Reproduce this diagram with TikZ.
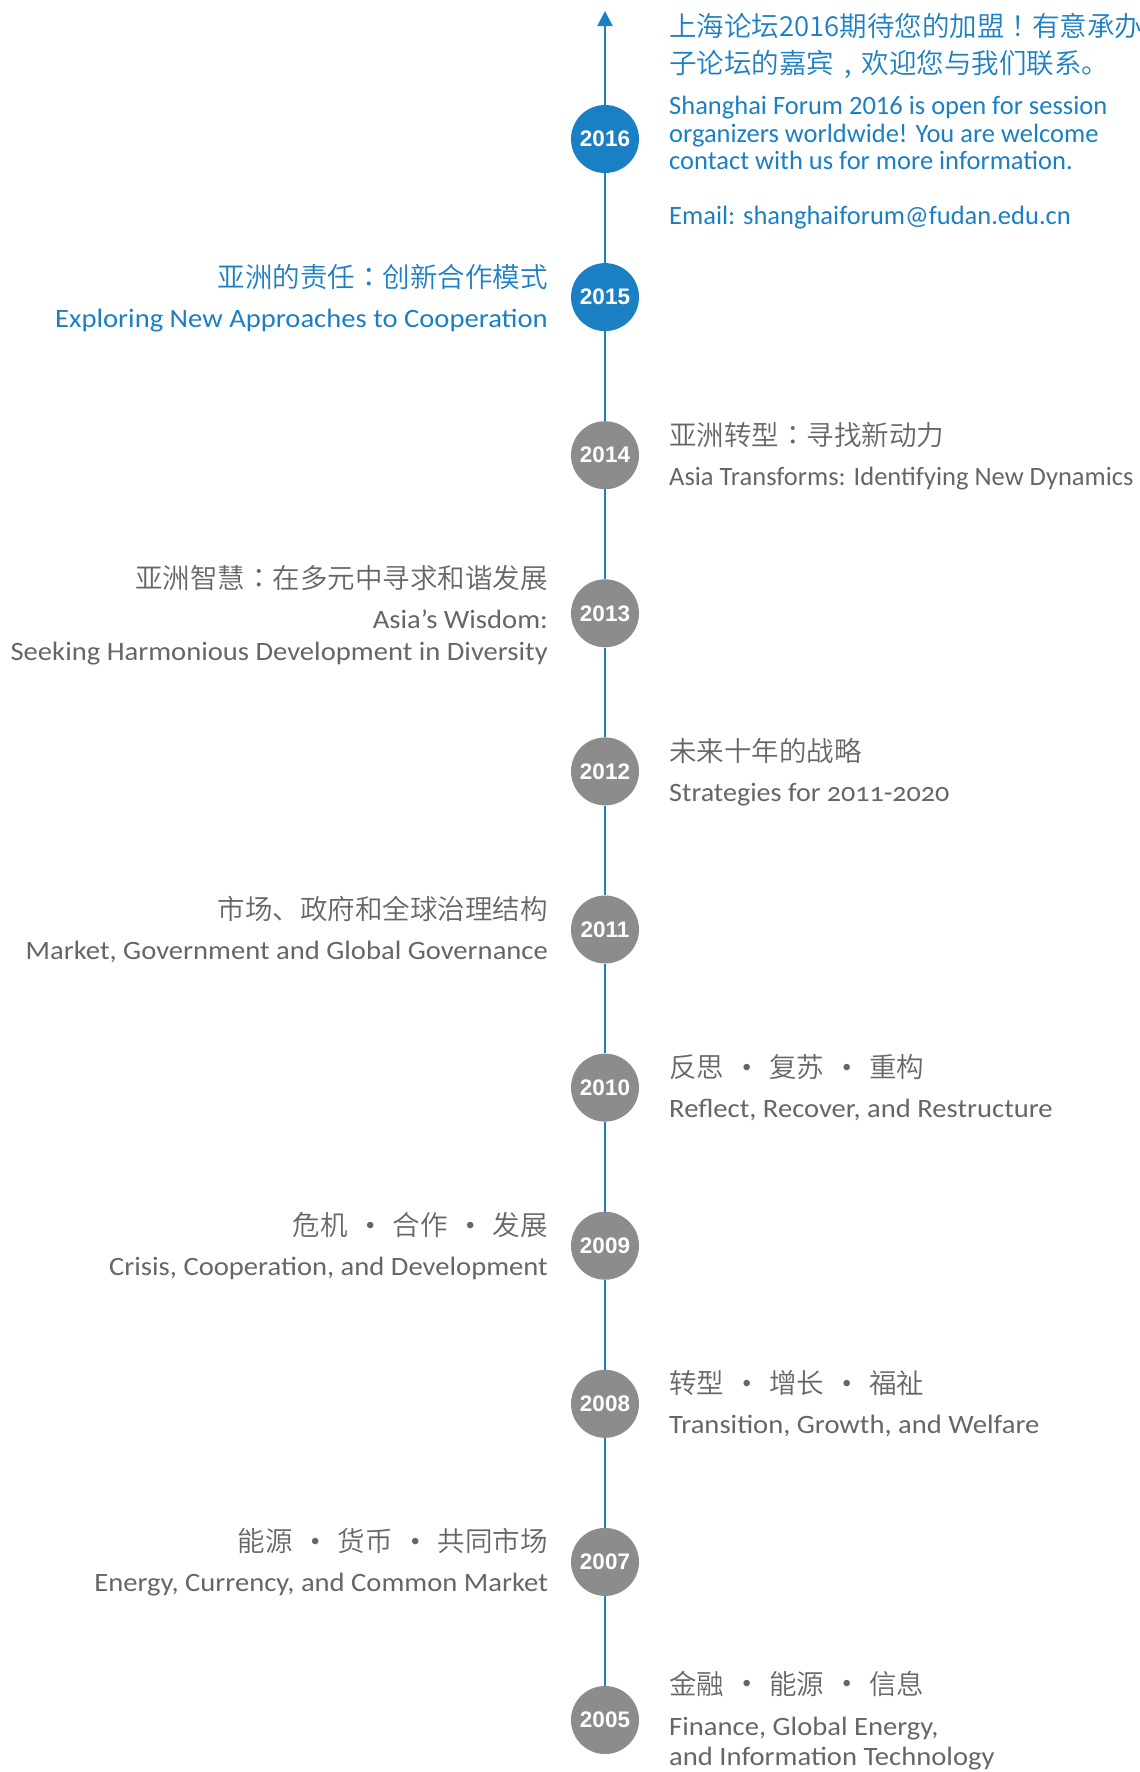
\documentclass[tikz,border=0pt]{standalone}
\usepackage{fontspec}
\setmainfont{Carlito}
\IfFontExistsTF{Noto Sans CJK SC DemiLight}
  {\newfontfamily\cjk{Noto Sans CJK SC DemiLight}}
  {\IfFontExistsTF{Noto Sans CJK SC Light}
    {\newfontfamily\cjk{Noto Sans CJK SC Light}}
    {\newfontfamily\cjk{Noto Sans CJK SC}}}
\IfFontExistsTF{Noto Sans CJK TC DemiLight}
  {\newfontfamily\cjktc{Noto Sans CJK TC DemiLight}}
  {\IfFontExistsTF{Noto Sans CJK TC Light}
    {\newfontfamily\cjktc{Noto Sans CJK TC Light}}
    {\newfontfamily\cjktc{Noto Sans CJK TC}}}
\newfontfamily\cand[FakeStretch=1.08]{Carlito}
\newfontfamily\candold[FakeStretch=1.06,Numbers=OldStyle]{Carlito}
\newfontfamily\yearfont{Liberation Sans}
\usetikzlibrary{arrows.meta,calc}
\definecolor{fblue}{RGB}{27,127,196}
\definecolor{cgray}{RGB}{140,140,140}
\definecolor{tgray}{RGB}{102,102,102}
\newcommand\dotsep{\makebox[45pt][c]{\raisebox{2.5pt}{\yearfont\fontsize{24}{24}\selectfont •}}}
\newcommand\fw[1]{{\cjktc #1}}
\newcommand\fwcomma{\makebox[1em][c]{,}}
\begin{document}
\begin{tikzpicture}[x=1pt,y=-1pt,
  yr/.style={circle,minimum size=68pt,inner sep=0pt,text=white,
    font=\yearfont\bfseries\fontsize{22.5}{22.5}\selectfont},
  yrb/.style={yr,fill=fblue},
  yrg/.style={yr,fill=cgray},
  cn/.style={inner sep=0pt,font=\cjk\fontsize{27.5}{27.5}\selectfont},
  en/.style={inner sep=0pt,font=\fontsize{26.5}{26.5}\selectfont},
  ca/.style={inner sep=0pt,font=\cand\fontsize{26.5}{26.5}\selectfont},
  R/.style={anchor=base west},
  L/.style={anchor=base east},
  blue/.style={text=fblue},
  grey/.style={text=tgray},
  axis/.style={draw=fblue,line width=2pt}]
\useasboundingbox (0,0) rectangle (1140,1772);
% year circles
\node[yrb] (y2016) at (605,139) {2016};
\node[yrb] (y2015) at (605,297.1) {2015};
\node[yrg] (y2014) at (605,455.2) {2014};
\node[yrg] (y2013) at (605,613.3) {2013};
\node[yrg] (y2012) at (605,771.4) {2012};
\node[yrg] (y2011) at (605,929.5) {2011};
\node[yrg] (y2010) at (605,1087.6) {2010};
\node[yrg] (y2009) at (605,1245.7) {2009};
\node[yrg] (y2008) at (605,1403.8) {2008};
\node[yrg] (y2007) at (605,1561.9) {2007};
\node[yrg] (y2005) at (605,1720) {2005};
\coordinate (tip) at (605,11);
% axis
\foreach \a/\b in {2005/2007,2007/2008,2008/2009,2009/2010,2010/2011,2011/2012,2012/2013,2013/2014,2014/2015,2015/2016}
  \draw[axis] (y\a.north) -- (y\b.south);
\draw[axis,-{Triangle[length=15pt,width=15pt]}] (y2016.north) -- (tip);
% 2016
\node[cn,blue,R] (t16a) at (669,36) {上海论坛2016期待您的加盟\fw{！}有意承办};
\node[cn,blue,R] (t16b) at (669,73) {子论坛的嘉宾\fwcomma 欢迎您与我们联系。};
\node[en,blue,R] (t16c) at (669,114) {Shanghai Forum 2016 is open for session};
\node[en,blue,R] (t16d) at (669,142) {organizers worldwide! You are welcome};
\node[en,blue,R] (t16e) at (669,169) {contact with us for more information.};
\node[en,blue,R] (t16f) at (669,224) {Email: shanghaiforum@fudan.edu.cn};
% 2015
\node[cn,blue,L] (t15a) at ($(y2015.center)+(-57,-10)$) {亚洲的责任\fw{：}创新合作模式};
\node[ca,blue,L] (t15b) at ($(y2015.center)+(-57,30)$) {Exploring New Approaches to Cooperation};
% 2014
\node[cn,grey,R] (t14a) at ($(y2014.center)+(64,-10)$) {亚洲转型\fw{：}寻找新动力};
\node[en,grey,R] (t14b) at ($(y2014.center)+(64,30)$) {Asia Transforms: Identifying New Dynamics};
% 2013
\node[cn,grey,L] (t13a) at ($(y2013.center)+(-57,-25)$) {亚洲智慧\fw{：}在多元中寻求和谐发展};
\node[ca,grey,L] (t13b) at ($(y2013.center)+(-57,15)$) {Asia’s Wisdom:};
\node[ca,grey,L] (t13c) at ($(y2013.center)+(-57,47)$) {Seeking Harmonious Development in Diversity};
% 2012
\node[cn,grey,R] (t12a) at ($(y2012.center)+(64,-10)$) {未来十年的战略};
\node[ca,grey,R,font=\candold\fontsize{26.5}{26.5}\selectfont] (t12b) at ($(y2012.center)+(64,30)$) {Strategies for 2011-2020};
% 2011
\node[cn,grey,L] (t11a) at ($(y2011.center)+(-57,-10)$) {市场、政府和全球治理结构};
\node[ca,grey,L] (t11b) at ($(y2011.center)+(-57,30)$) {Market, Government and Global Governance};
% 2010
\node[cn,grey,R] (t10a) at ($(y2010.center)+(64,-10)$) {反思\dotsep 复苏\dotsep 重构};
\node[ca,grey,R] (t10b) at ($(y2010.center)+(64,30)$) {Reflect, Recover, and Restructure};
% 2009
\node[cn,grey,L] (t09a) at ($(y2009.center)+(-57,-10)$) {危机\dotsep 合作\dotsep 发展};
\node[ca,grey,L] (t09b) at ($(y2009.center)+(-57,30)$) {Crisis, Cooperation, and Development};
% 2008
\node[cn,grey,R] (t08a) at ($(y2008.center)+(64,-10)$) {转型\dotsep 增长\dotsep 福祉};
\node[ca,grey,R] (t08b) at ($(y2008.center)+(64,30)$) {Transition, Growth, and Welfare};
% 2007
\node[cn,grey,L] (t07a) at ($(y2007.center)+(-57,-10)$) {能源\dotsep 货币\dotsep 共同市场};
\node[ca,grey,L] (t07b) at ($(y2007.center)+(-57,30)$) {Energy, Currency, and Common Market};
% 2005
\node[cn,grey,R] (t05a) at ($(y2005.center)+(64,-26)$) {金融\dotsep 能源\dotsep 信息};
\node[ca,grey,R] (t05b) at ($(y2005.center)+(64,15)$) {Finance, Global Energy,};
\node[ca,grey,R] (t05c) at ($(y2005.center)+(64,45)$) {and Information Technology};
\end{tikzpicture}
\end{document}
